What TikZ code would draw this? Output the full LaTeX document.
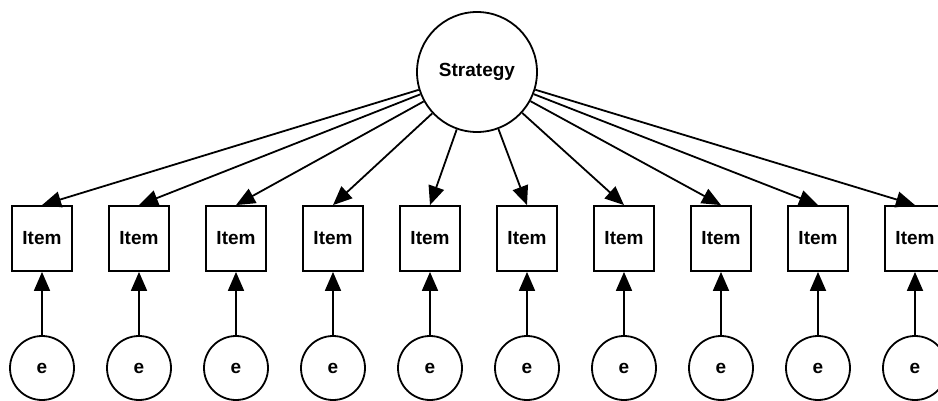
\documentclass[tikz,border=0pt]{standalone}
\usepackage{fontspec}
\setmainfont{Liberation Sans}
\usetikzlibrary{arrows.meta}
\begin{document}
\begin{tikzpicture}[x=1pt,y=-1pt,
  txt/.style={font=\fontsize{19}{22}\selectfont\bfseries},
  itembox/.style={txt,draw,line width=1.8pt,minimum width=60pt,minimum height=65pt,inner sep=0pt},
  errc/.style={txt,draw,circle,line width=1.8pt,minimum size=64pt,inner sep=0pt},
  latent/.style={txt,draw,circle,line width=1.8pt,minimum size=120pt,inner sep=0pt},
  conn/.style={line width=1.8pt,-{Triangle[length=19pt,width=16pt]}}]
\useasboundingbox (0,0) rectangle (938,400);
\node[latent] (S) at (477,72) {Strategy};
\foreach \i in {0,...,9}{
  \pgfmathsetmacro{\xx}{42+97*\i}
  \node[itembox] (I\i) at (\xx,238.5) {Item};
  \node[errc] (E\i) at (\xx,368) {e};
  \draw[conn] (S) -- (I\i.north);
  \draw[conn] (E\i) -- (I\i);
}
\end{tikzpicture}
\end{document}
